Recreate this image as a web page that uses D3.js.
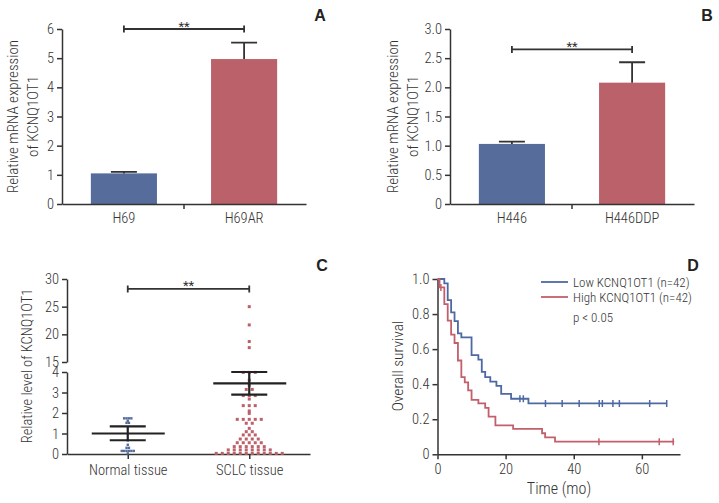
<!DOCTYPE html>
<html>
<head>
<meta charset="utf-8">
<script src="https://cdnjs.cloudflare.com/ajax/libs/d3/7.8.5/d3.min.js"></script>
<style>
    body { margin: 0; background: #fff; }
    svg { display: block; }
    text { font-family: "Roboto Condensed", "Liberation Sans Narrow", "DejaVu Sans Condensed", sans-serif; font-weight: 300; fill: #333; }
    .axis path, .axis line { stroke: #333; stroke-width: 1.5px; }
    .axis text { font-family: "Roboto Condensed", "Liberation Sans Narrow", "DejaVu Sans Condensed", sans-serif; font-weight: 300; font-size: 14.5px; fill: #333; }
    .letter { font-family: "Liberation Sans", Arial, sans-serif; font-weight: bold; font-size: 16px; fill: #222; }
</style>
</head>
<body>
<div id="container"></div>
<script>
"use strict";

// panel A
var cellLinesA = ["H69", "H69AR"],
    expressionA = [1.05, 4.97],
    errorTopA = [1.1, 5.53],
    ticksA = [0, 1, 2, 3, 4, 5, 6];

// panel B
var cellLinesB = ["H446", "H446DDP"],
    expressionB = [1.03, 2.08],
    errorTopB = [1.07, 2.43],
    ticksB = [0, 0.5, 1, 1.5, 2, 2.5, 3];

// panel C
var tissues = ["Normal tissue", "SCLC tissue"];
var normalLevels = [1.74, 1.74, 1.74, 1.74, 1.62, 1.52, 1.52, 0.66, 0.45, 0.3, 0.3,
    0.15, 0.15, 0.15, 0.15, 0.15, 0.15, 0.03];
var sclcLevels = [25.0, 21.7, 18.7, 17.6,
    3.98, 3.98, 3.98, 3.6, 3.35, 3.15, 3.15, 2.85, 2.85, 2.85, 2.68, 2.36, 2.36, 2.36, 2.1, 1.98,
    1.69, 1.69, 1.69, 1.69, 1.69, 1.5, 1.5, 1.25, 1.09, 1.09, 0.93, 0.93, 0.93,
    0.73, 0.73, 0.73, 0.73, 0.55, 0.55, 0.55, 0.55, 0.55,
    0.36, 0.36, 0.36, 0.36, 0.36, 0.36, 0.2, 0.2, 0.2, 0.2, 0.2, 0.2, 0.2, 0.2,
    0.03, 0.03, 0.03, 0.03, 0.03, 0.03, 0.03, 0.03, 0.03, 0.03, 0.03, 0.03];
var tissueMean = [1.0, 3.45],
    tissueSemLow = [0.67, 2.9],
    tissueSemHigh = [1.35, 4.0],
    ticksCLow = [0, 1, 2, 3, 4],
    ticksCHigh = [15, 20, 25, 30];

// panel D
var lowTimes = [0, 2, 3, 4, 5, 6, 7, 10, 12, 13, 14, 15.5, 17.3, 18.7, 21.6, 26.7],
    lowSurvival = [1.0, 0.975, 0.88, 0.81, 0.76, 0.69, 0.667, 0.566, 0.54, 0.47, 0.44, 0.415, 0.39, 0.345, 0.317, 0.29],
    lowCensored = [24.2, 25.2, 31.7, 36.6, 41.6, 47.5, 48.4, 51.5, 53.4, 62.3, 67.3],
    lowEnd = 67.4;
var highTimes = [0, 0.6, 2, 3, 4, 5, 6, 7, 8, 9, 10, 12, 14, 15, 17, 22.2, 30.7, 31.6, 34.5],
    highSurvival = [1.0, 0.952, 0.857, 0.762, 0.683, 0.635, 0.535, 0.44, 0.41, 0.365, 0.31, 0.29, 0.265, 0.215, 0.165, 0.145, 0.12, 0.097, 0.072],
    highCensored = [1, 47.4, 65.1, 69.2],
    highEnd = 69.5;
var groupLabels = ["Low KCNQ1OT1 (n=42)", "High KCNQ1OT1 (n=42)"],
    ticksDX = [0, 20, 40, 60],
    ticksDY = [0, 0.2, 0.4, 0.6, 0.8, 1.0];

var barColors = ["#566d9b", "#bb616a"],
    lineColors = ["#4e68a3", "#c35f6b"];

var svg = d3.select("#container").append("svg")
    .attr("width", 719)
    .attr("height", 503)
    .style("background-color", "#fff");

function decimalFormat(d) {
    return d === 0 ? "0" : d3.format(".1f")(d);
}

function drawBracket(g, x1, x2, yPos) {
    g.append("path")
        .attr("d", "M" + x1 + "," + (yPos - 3.5) + "V" + (yPos + 3.5) + "M" + x1 + "," + yPos +
            "H" + x2 + "M" + x2 + "," + (yPos - 3.5) + "V" + (yPos + 3.5))
        .attr("fill", "none")
        .attr("stroke", "#333")
        .attr("stroke-width", 1.8);
    g.append("text")
        .attr("x", (x1 + x2) / 2)
        .attr("y", yPos + 1.5)
        .attr("text-anchor", "middle")
        .style("font-size", "13px")
        .style("font-weight", "400")
        .text("**");
}

function drawBarPanel(p) {
    var g = svg.append("g");

    var x = d3.scaleBand().domain(p.cats).range(p.xRange).paddingInner(0.45).paddingOuter(0.24),
        y = d3.scaleLinear().domain(p.yDomain).range(p.yRange);

    g.selectAll(".bar")
        .data(p.cats)
        .enter().append("rect")
            .attr("class", "bar")
            .attr("x", function(d) { return x(d); })
            .attr("y", function(d, i) { return y(p.values[i]); })
            .attr("width", x.bandwidth())
            .attr("height", function(d, i) { return y(0) - y(p.values[i]); })
            .attr("fill", function(d, i) { return barColors[i]; });

    // error bars, upper half only
    g.selectAll(".err")
        .data(p.cats)
        .enter().append("path")
            .attr("class", "err")
            .attr("d", function(d, i) {
                var cx = x(d) + x.bandwidth() / 2;
                return "M" + cx + "," + y(p.values[i]) + "V" + y(p.errTop[i]) +
                    "M" + (cx - 13) + "," + y(p.errTop[i]) + "H" + (cx + 13);
            })
            .attr("stroke", "#333")
            .attr("stroke-width", 1.8)
            .attr("fill", "none");

    g.append("g")
        .attr("class", "axis")
        .attr("transform", "translate(" + p.xRange[0] + ",0)")
        .call(d3.axisLeft(y).tickValues(p.ticks).tickFormat(p.fmt).tickSize(5).tickSizeOuter(0).tickPadding(3));

    var xAxis = g.append("g")
        .attr("class", "axis")
        .attr("transform", "translate(0," + p.yRange[0] + ")")
        .call(d3.axisBottom(x).tickSize(0).tickSizeOuter(0).tickPadding(9));

    var mid = (x(p.cats[0]) + x(p.cats[1]) + x.bandwidth()) / 2;
    xAxis.append("line")
        .attr("x1", mid).attr("x2", mid)
        .attr("y1", 0).attr("y2", 5);

    drawBracket(g, x(p.cats[0]) + x.bandwidth() / 2, x(p.cats[1]) + x.bandwidth() / 2, y(p.bracket));

    p.label.forEach(function(line, i) {
        g.append("text")
            .attr("transform", "translate(" + (p.labelX + i * 20) + "," + ((p.yRange[0] + p.yRange[1]) / 2) + ") rotate(-90)")
            .attr("text-anchor", "middle")
            .style("font-size", "15px")
            .text(line);
    });

    g.append("text")
        .attr("class", "letter")
        .attr("x", p.letterX)
        .attr("y", 21)
        .attr("text-anchor", "middle")
        .text(p.letter);
}

drawBarPanel({
    cats: cellLinesA, values: expressionA, errTop: errorTopA, ticks: ticksA,
    fmt: d3.format("d"), xRange: [62, 306], yRange: [204, 29], yDomain: [0, 6],
    bracket: 6, label: ["Relative mRNA expression", "of KCNQ1OT1"], labelX: 18,
    letter: "A", letterX: 320
});

drawBarPanel({
    cats: cellLinesB, values: expressionB, errTop: errorTopB, ticks: ticksB,
    fmt: decimalFormat, xRange: [450, 694], yRange: [204, 29], yDomain: [0, 3],
    bracket: 2.65, label: ["Relative mRNA expression", "of KCNQ1OT1"], labelX: 398,
    letter: "B", letterX: 707
});

// ---- panel C: scatter with broken y axis ----
(function() {
    var g = svg.append("g");

    var x = d3.scalePoint().domain(tissues).range([67, 310]).padding(0.5),
        yLow = d3.scaleLinear().domain([0, 4]).range([454, 372]),
        yHigh = d3.scaleLinear().domain([15, 30]).range([362, 279]);

    function yC(v) {
        return v > 4 ? yHigh(v) : yLow(v);
    }

    g.append("g")
        .attr("class", "axis")
        .attr("transform", "translate(67,0)")
        .call(d3.axisLeft(yLow).tickValues(ticksCLow).tickFormat(d3.format("d")).tickSize(5).tickSizeOuter(0).tickPadding(3));

    g.append("g")
        .attr("class", "axis")
        .attr("transform", "translate(67,0)")
        .call(d3.axisLeft(yHigh).tickValues(ticksCHigh).tickFormat(d3.format("d")).tickSize(5).tickSizeOuter(0).tickPadding(3));

    g.append("g")
        .attr("class", "axis")
        .attr("transform", "translate(0,454)")
        .call(d3.axisBottom(x).tickSize(5).tickSizeOuter(0).tickPadding(6));

    var groups = [normalLevels, sclcLevels],
        spacing = [2.4, 6],
        size = [2.4, 3];

    groups.forEach(function(values, gi) {
        var rows = d3.groups(values, function(v) { return v; }),
            pts = [];
        rows.forEach(function(row) {
            var n = row[1].length;
            row[1].forEach(function(v, i) {
                pts.push({ v: v, dx: (i - (n - 1) / 2) * spacing[gi] });
            });
        });
        g.selectAll(".pt" + gi)
            .data(pts)
            .enter().append("rect")
                .attr("class", "pt" + gi)
                .attr("x", function(d) { return x(tissues[gi]) + d.dx - size[gi] / 2; })
                .attr("y", function(d) { return yC(d.v) - size[gi] / 2; })
                .attr("width", size[gi])
                .attr("height", size[gi])
                .attr("fill", barColors[gi]);
    });

    // mean and SEM lines
    tissues.forEach(function(t, i) {
        var cx = x(t);
        g.append("path")
            .attr("d", "M" + (cx - 36) + "," + yC(tissueMean[i]) + "H" + (cx + 37) +
                "M" + (cx - 18) + "," + yC(tissueSemHigh[i]) + "H" + (cx + 18) +
                "M" + (cx - 18) + "," + yC(tissueSemLow[i]) + "H" + (cx + 18) +
                "M" + cx + "," + yC(tissueSemLow[i]) + "V" + yC(tissueSemHigh[i]))
            .attr("stroke", "#222")
            .attr("stroke-width", 2.2)
            .attr("fill", "none");
    });

    drawBracket(g, x(tissues[0]), x(tissues[1]), yHigh(28.2));

    g.append("text")
        .attr("transform", "translate(32,366) rotate(-90)")
        .attr("text-anchor", "middle")
        .style("font-size", "14.5px")
        .text("Relative level of KCNQ1OT1");

    g.append("text")
        .attr("class", "letter")
        .attr("x", 322)
        .attr("y", 271)
        .attr("text-anchor", "middle")
        .text("C");
})();

// ---- panel D: Kaplan-Meier curves ----
(function() {
    var g = svg.append("g");

    var x = d3.scaleLinear().domain([0, 71.2]).range([437.5, 680]),
        y = d3.scaleLinear().domain([0, 1]).range([454.3, 279]);

    g.append("g")
        .attr("class", "axis")
        .attr("transform", "translate(0,454.3)")
        .call(d3.axisBottom(x).tickValues(ticksDX).tickSize(5).tickSizeOuter(0).tickPadding(4));

    g.append("g")
        .attr("class", "axis")
        .attr("transform", "translate(437.5,0)")
        .call(d3.axisLeft(y).tickValues(ticksDY).tickFormat(decimalFormat).tickSize(5).tickSizeOuter(0).tickPadding(3));

    var line = d3.line()
        .x(function(d) { return x(d[0]); })
        .y(function(d) { return y(d[1]); })
        .curve(d3.curveStepAfter);

    var curves = [
        { times: lowTimes, surv: lowSurvival, cens: lowCensored, end: lowEnd },
        { times: highTimes, surv: highSurvival, cens: highCensored, end: highEnd }
    ];

    curves.forEach(function(c, ci) {
        var pts = c.times.map(function(t, i) { return [t, c.surv[i]]; });
        pts.push([c.end, c.surv[c.surv.length - 1]]);

        g.append("path")
            .datum(pts)
            .attr("d", line)
            .attr("fill", "none")
            .attr("stroke", lineColors[ci])
            .attr("stroke-width", 1.8);

        g.selectAll(".cens" + ci)
            .data(c.cens)
            .enter().append("line")
                .attr("class", "cens" + ci)
                .attr("x1", function(d) { return x(d); })
                .attr("x2", function(d) { return x(d); })
                .attr("y1", function(d) { return y(c.surv[d3.bisectRight(c.times, d) - 1]) - 3.5; })
                .attr("y2", function(d) { return y(c.surv[d3.bisectRight(c.times, d) - 1]) + 3.5; })
                .attr("stroke", lineColors[ci])
                .attr("stroke-width", 1.5);
    });

    // legend
    groupLabels.forEach(function(label, i) {
        g.append("line")
            .attr("x1", 541).attr("x2", 568)
            .attr("y1", 282 + i * 15).attr("y2", 282 + i * 15)
            .attr("stroke", lineColors[i])
            .attr("stroke-width", 1.8);
        g.append("text")
            .attr("x", 573)
            .attr("y", 286.5 + i * 15)
            .style("font-size", "13px")
            .text(label);
    });

    g.append("text")
        .attr("x", 573)
        .attr("y", 321.5)
        .style("font-size", "13px")
        .text("p < 0.05");

    g.append("text")
        .attr("transform", "translate(403,366) rotate(-90)")
        .attr("text-anchor", "middle")
        .style("font-size", "15.5px")
        .text("Overall survival");

    g.append("text")
        .attr("x", 559)
        .attr("y", 494)
        .attr("text-anchor", "middle")
        .style("font-size", "16px")
        .text("Time (mo)");

    g.append("text")
        .attr("class", "letter")
        .attr("x", 693)
        .attr("y", 271)
        .attr("text-anchor", "middle")
        .text("D");
})();
</script>
</body>
</html>
